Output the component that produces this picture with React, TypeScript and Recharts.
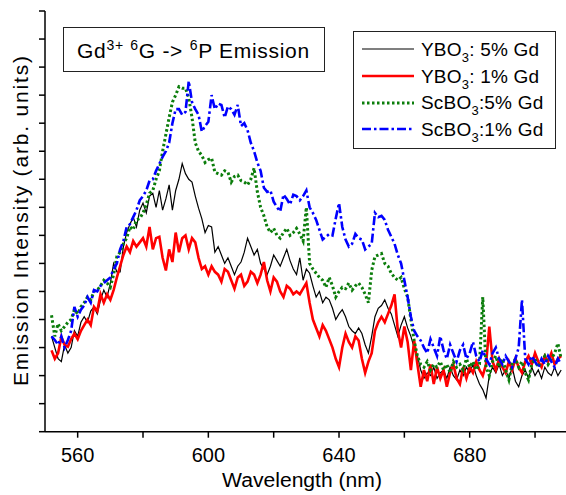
// Gd3+ 6G -> 6P emission spectra of YBO3 / ScBO3 samples
import { LineChart, Line, XAxis, YAxis, Legend } from 'recharts';

// wavelength grid (nm)
const wavelengths = [
  552, 553, 554, 555, 556, 557, 558, 559, 560, 561, 562, 563, 564, 565, 566, 567, 568, 569, 570, 571,
  572, 573, 574, 575, 576, 577, 578, 579, 580, 581, 582, 583, 584, 585, 586, 587, 588, 589, 590, 591,
  592, 593, 594, 595, 596, 597, 598, 599, 600, 601, 602, 603, 604, 605, 606, 607, 608, 609, 610, 611,
  612, 613, 614, 615, 616, 617, 618, 619, 620, 621, 622, 623, 624, 625, 626, 627, 628, 629, 630, 631,
  632, 633, 634, 635, 636, 637, 638, 639, 640, 641, 642, 643, 644, 645, 646, 647, 648, 649, 650, 651,
  652, 653, 654, 655, 656, 657, 658, 659, 660, 661, 662, 663, 664, 665, 666, 667, 668, 669, 670, 671,
  672, 673, 674, 675, 676, 677, 678, 679, 680, 681, 682, 683, 684, 685, 686, 687, 688, 689, 690, 691,
  692, 693, 694, 695, 696, 697, 698, 699, 700, 701, 702, 703, 704, 705, 706, 707, 708,
];

// YBO3: 5% Gd
const ybo5 = [
  3.4, 3.0, 2.6, 2.5, 3.1, 2.8, 3.0, 3.6, 3.4, 3.9, 4.1, 3.9, 4.3, 4.45, 4.2, 4.7, 5.05, 4.8, 5.3, 6.0,
  5.7, 5.7, 6.6, 7.1, 7.4, 7.65, 7.3, 7.9, 8.15, 7.8, 8.4, 8.5, 8.0, 8.6, 7.9, 8.3, 8.8, 7.9, 8.6, 9.0,
  9.56, 9.2, 9.0, 8.9, 8.4, 7.97, 7.6, 7.1, 7.35, 7.3, 6.4, 6.6, 6.3, 6.0, 6.2, 5.9, 5.6, 5.9, 6.05, 6.4,
  6.9, 6.6, 6.3, 6.5, 6.0, 5.8, 5.6, 5.9, 6.3, 6.1, 5.9, 6.2, 6.5, 6.1, 5.8, 5.6, 6.2, 5.4, 5.8, 5.65,
  5.2, 4.8, 5.0, 4.6, 4.8, 4.7, 4.4, 4.0, 4.2, 4.35, 4.1, 3.75, 3.6, 3.5, 3.7, 3.5, 3.1, 2.8, 3.4, 4.1,
  4.4, 4.5, 4.7, 4.4, 4.2, 3.8, 3.4, 3.8, 4.1, 3.7, 3.4, 3.0, 2.7, 2.2, 1.9, 2.1, 2.0, 2.3, 1.9, 2.1,
  2.2, 1.9, 2.3, 2.0, 1.85, 2.2, 2.0, 2.3, 2.1, 2.4, 2.0, 1.7, 1.5, 1.2, 2.0, 2.3, 2.1, 2.4, 2.0, 2.2,
  1.9, 2.3, 1.8, 1.6, 2.0, 2.2, 1.9, 2.3, 2.0, 2.2, 1.9, 2.3, 2.1, 2.0, 2.3, 2.0, 2.2,
];

// YBO3: 1% Gd
const ybo1 = [
  2.9, 2.6, 2.8, 3.38, 3.1, 3.03, 3.3, 3.5, 3.3, 3.6, 3.8, 4.0, 3.8, 4.45, 4.3, 4.9, 4.6, 4.9, 4.7, 5.05,
  5.5, 5.9, 6.3, 6.6, 6.4, 6.8, 6.6, 6.75, 6.9, 6.6, 7.3, 6.5, 6.9, 6.95, 6.2, 5.75, 6.5, 6.05, 7.1, 6.4,
  6.9, 7.0, 6.5, 6.9, 6.75, 6.2, 5.8, 5.9, 5.6, 5.9, 5.7, 5.6, 5.35, 5.8, 5.7, 5.4, 5.1, 5.5, 5.6, 5.2,
  5.35, 5.7, 5.6, 5.3, 5.6, 6.05, 5.4, 5.0, 5.5, 5.35, 5.0, 4.8, 5.2, 5.1, 4.9, 5.0, 4.9, 5.1, 5.3, 4.6,
  4.0, 3.7, 3.4, 3.8, 3.6, 3.3, 3.0, 2.6, 2.3, 3.0, 3.5, 3.2, 3.0, 3.4, 3.25, 2.6, 2.1, 2.5, 2.8, 3.6,
  3.9, 4.1, 3.9, 4.2, 4.5, 4.9, 3.6, 3.0, 3.75, 3.2, 2.2, 3.25, 2.4, 1.6, 2.2, 1.8, 2.4, 1.7, 2.3, 1.9,
  2.2, 1.6, 2.1, 2.4, 1.9, 1.7, 2.3, 1.9, 2.3, 2.1, 2.5, 2.2, 2.0, 2.4, 3.75, 2.5, 2.2, 2.6, 2.3, 2.1,
  2.5, 2.2, 2.6, 2.3, 2.1, 2.5, 2.7, 2.4, 2.8, 2.5, 2.3, 2.7, 2.5, 2.8, 2.4, 2.6, 2.7,
];

// ScBO3: 5% Gd
const scbo5 = [
  4.15, 3.4, 3.85, 3.6, 3.75, 3.9, 4.0, 4.35, 4.2, 4.45, 4.6, 4.8, 4.7, 5.0, 5.05, 5.2, 5.4, 5.3, 5.15, 5.6,
  6.25, 6.4, 6.7, 6.9, 7.3, 7.2, 7.55, 7.6, 7.8, 8.1, 8.5, 8.6, 9.0, 9.3, 10.0, 10.6, 11.2, 11.75, 12.0, 12.3,
  12.25, 12.25, 11.9, 11.2, 10.3, 10.0, 9.85, 9.6, 9.7, 9.75, 9.25, 9.2, 9.15, 9.3, 9.25, 8.9, 9.1, 9.15, 8.95, 8.9,
  8.8, 9.0, 9.4, 8.55, 8.0, 7.7, 7.3, 7.1, 7.25, 7.0, 6.9, 7.1, 7.25, 7.0, 7.1, 7.25, 7.05, 6.8, 8.0, 6.0,
  5.8, 5.65, 5.5, 5.4, 5.15, 5.5, 5.2, 4.8, 5.0, 5.15, 5.1, 5.3, 5.05, 5.2, 5.3, 5.15, 4.9, 4.6, 5.75, 6.25,
  6.3, 6.35, 6.0, 5.9, 5.65, 5.5, 5.4, 5.5, 5.1, 4.8, 4.0, 3.25, 2.7, 2.4, 2.3, 2.5, 2.2, 2.4, 2.3, 2.5,
  2.2, 2.4, 2.1, 2.5, 2.3, 2.4, 2.2, 2.6, 2.3, 2.5, 2.2, 2.4, 4.8, 2.3, 2.0, 2.5, 2.7, 2.3, 2.6, 2.2,
  1.85, 2.4, 2.6, 2.3, 2.5, 2.1, 1.85, 2.4, 2.6, 2.3, 2.5, 2.7, 2.4, 2.6, 2.8, 3.15, 2.6,
];

// ScBO3: 1% Gd
const scbo1 = [
  3.4, 3.27, 3.1, 3.4, 3.0, 3.27, 3.6, 4.45, 4.1, 4.35, 4.5, 4.8, 4.6, 5.05, 5.0, 5.2, 5.3, 5.4, 5.5, 5.8,
  6.0, 6.5, 6.8, 7.3, 7.4, 7.65, 7.9, 8.25, 8.4, 8.6, 8.95, 9.0, 9.3, 9.55, 9.8, 10.0, 10.3, 11.0, 11.5, 11.5,
  11.3, 11.4, 12.5, 11.75, 11.5, 11.3, 10.7, 10.9, 11.05, 12.0, 11.5, 11.7, 11.65, 11.2, 11.6, 11.5, 11.3, 11.65, 10.9, 11.0,
  10.75, 10.3, 10.0, 9.6, 9.3, 8.7, 8.55, 8.6, 8.2, 8.0, 7.85, 8.45, 8.3, 8.1, 8.45, 8.4, 8.25, 8.4, 8.6, 8.0,
  7.8, 7.55, 7.2, 6.85, 6.95, 7.05, 7.0, 7.6, 8.15, 7.3, 6.85, 6.6, 6.7, 7.05, 6.9, 6.85, 6.5, 6.6, 6.7, 7.8,
  7.65, 7.7, 7.55, 7.2, 6.95, 6.7, 6.3, 6.0, 5.4, 4.8, 4.1, 3.6, 3.4, 3.25, 3.0, 2.8, 3.3, 3.0, 2.7, 3.4,
  2.9, 2.6, 3.1, 2.8, 2.5, 2.9, 3.1, 2.6, 2.8, 3.2, 2.7, 2.5, 2.9, 2.6, 2.4, 2.8, 3.0, 2.6, 2.4, 2.7,
  2.5, 2.3, 2.6, 3.0, 4.7, 2.6, 2.4, 2.7, 2.5, 2.3, 2.6, 2.4, 2.7, 2.5, 2.3, 2.6, 2.4,
];

const xTicks = [560, 580, 600, 620, 640, 660, 680, 700];
const xLabelled = [560, 600, 640, 680];
const yTicks = [0, 1, 2, 3, 4, 5, 6, 7, 8, 9, 10, 11, 12, 13, 14, 15];

const series = [
  { key: 'ybo5', host: 'YBO', rest: ': 5% Gd', color: '#000000', width: 1.2, dash: undefined },
  { key: 'ybo1', host: 'YBO', rest: ': 1% Gd', color: '#ff0000', width: 2.6, dash: undefined },
  { key: 'scbo5', host: 'ScBO', rest: ':5% Gd', color: '#0b7d0b', width: 3, dash: '2.5 2.5' },
  { key: 'scbo1', host: 'ScBO', rest: ':1% Gd', color: '#0000ff', width: 2.6, dash: '9 3 2.5 3' },
];

const data = wavelengths.map((wl, i) => ({
  wl,
  ybo5: ybo5[i],
  ybo1: ybo1[i],
  scbo5: scbo5[i],
  scbo1: scbo1[i],
}));

const FONT = '"Liberation Sans", Arial, Helvetica, sans-serif';
const blank = () => '';

function LegendBox() {
  return (
    <div
      style={{
        width: 203,
        height: 118,
        boxSizing: 'border-box',
        border: '1.5px solid #222',
        background: '#fff',
        fontFamily: FONT,
        fontSize: 19,
        color: '#000',
        paddingTop: 4,
      }}
    >
      {series.map((s) => (
        <div key={s.key} style={{ display: 'flex', alignItems: 'center', height: 26.7, whiteSpace: 'nowrap' }}>
          <svg width={60} height={10} style={{ marginLeft: 8, flexShrink: 0 }}>
            <line x1={0} y1={5} x2={52} y2={5} stroke={s.color} strokeWidth={s.width} strokeDasharray={s.dash} />
          </svg>
          <span style={{ marginLeft: -1, lineHeight: '19px', letterSpacing: 0.2 }}>
            {s.host}
            <sub style={{ fontSize: 13, verticalAlign: -6, lineHeight: 0 }}>3</sub>
            {s.rest}
          </span>
        </div>
      ))}
    </div>
  );
}

export default function App() {
  return (
    <div style={{ position: 'absolute', left: 0, top: 0, width: 566, height: 495, overflow: 'hidden', background: '#fff' }}>
      <LineChart
        width={570}
        height={495}
        data={data}
        margin={{ top: 11, right: 2.3, left: 0, bottom: 0 }}
        style={{ fontFamily: FONT }}
      >
        <XAxis
          dataKey="wl"
          type="number"
          domain={[550, 710]}
          ticks={xTicks}
          allowDataOverflow
          height={63.3}
          tickSize={6}
          tickMargin={10}
          axisLine={{ stroke: '#000', strokeWidth: 1.5 }}
          tickLine={{ stroke: '#000', strokeWidth: 1.5 }}
          tick={{ fill: '#000', fontSize: 20 }}
          tickFormatter={(v: number) => (xLabelled.includes(v) ? String(v) : '')}
          label={() => (
            <text x={302} y={487} textAnchor="middle" fontSize={20} fill="#000" textLength={160} lengthAdjust="spacingAndGlyphs">
              Wavelength (nm)
            </text>
          )}
        />
        <XAxis
          xAxisId="top"
          orientation="top"
          dataKey="wl"
          type="number"
          domain={[550, 710]}
          ticks={xTicks}
          allowDataOverflow
          height={0}
          mirror
          tickSize={7}
          tickFormatter={blank}
          axisLine={{ stroke: '#000', strokeWidth: 1.5 }}
          tickLine={{ stroke: '#000', strokeWidth: 1.5 }}
        />
        <YAxis
          type="number"
          domain={[0, 15]}
          ticks={yTicks}
          width={45}
          tickSize={6}
          tickFormatter={blank}
          axisLine={{ stroke: '#000', strokeWidth: 1.5 }}
          tickLine={{ stroke: '#000', strokeWidth: 1.5 }}
          label={() => (
            <text
              transform="translate(27.5,221) rotate(-90)"
              textAnchor="middle"
              fontSize={21}
              fill="#000"
              textLength={330}
              lengthAdjust="spacing"
            >
              Emission Intensity (arb. units)
            </text>
          )}
        />
        <Legend
          layout="vertical"
          align="center"
          verticalAlign="middle"
          content={() => <LegendBox />}
          wrapperStyle={{ left: 353, top: 31, width: 203, height: 118 }}
        />
        {series.map((s) => (
          <Line
            key={s.key}
            dataKey={s.key}
            type="linear"
            stroke={s.color}
            strokeWidth={s.width}
            strokeDasharray={s.dash}
            dot={false}
            activeDot={false}
            isAnimationActive={false}
          />
        ))}
      </LineChart>

      {/* title box */}
      <div
        style={{
          position: 'absolute',
          left: 63,
          top: 27,
          width: 262,
          height: 45,
          boxSizing: 'border-box',
          border: '1.5px solid #222',
          background: '#fff',
          fontFamily: FONT,
          fontSize: 21,
          letterSpacing: 0.7,
          lineHeight: '45px',
          paddingLeft: 13,
          whiteSpace: 'nowrap',
          color: '#000',
        }}
      >
        Gd<sup style={{ fontSize: 14, verticalAlign: 8, lineHeight: 0 }}>3+</sup>{' '}
        <sup style={{ fontSize: 14, verticalAlign: 8, lineHeight: 0 }}>6</sup>G -&gt;{' '}
        <sup style={{ fontSize: 14, verticalAlign: 8, lineHeight: 0 }}>6</sup>P Emission
      </div>
    </div>
  );
}
